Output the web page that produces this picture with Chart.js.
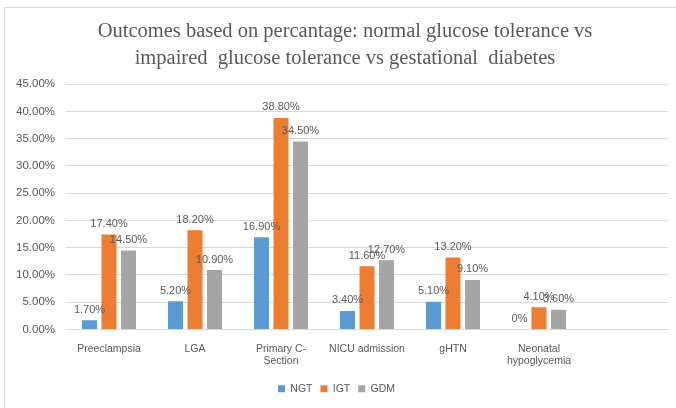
<!DOCTYPE html>
<html>
<head>
<meta charset="utf-8">
<script src="https://cdn.jsdelivr.net/npm/chart.js@4"></script>
<style>
  html, body { margin: 0; padding: 0; background: #fff; }
  #wrap { position: relative; width: 676px; height: 408px; }
  #frame { position: absolute; left: 4px; top: 7px; width: 680px; height: 410px; border: 1px solid #d9d9d9; }
  canvas { position: absolute; left: 0; top: 0; }
</style>
</head>
<body>
<div id="wrap">
  <div id="frame"></div>
  <canvas id="BarChart" width="676" height="408"></canvas>
</div>
<script>
// categories (last one is empty space, as in the original sheet)
var categories = ['Preeclampsia', 'LGA', ['Primary C-', 'Section'], 'NICU admission', 'gHTN', ['Neonatal', 'hypoglycemia'], ''];

// values in percent
var ngt = [1.7, 5.2, 16.9, 3.4, 5.1, 0, null];
var igt = [17.4, 18.2, 38.8, 11.6, 13.2, 4.1, null];
var gdm = [14.5, 10.9, 34.5, 12.7, 9.1, 3.6, null];

var seriesNames = ['NGT', 'IGT', 'GDM'];
var yTicks = [0, 5, 10, 15, 20, 25, 30, 35, 40, 45];

var fmt = function (v) { return v === 0 ? '0%' : v.toFixed(2) + '%'; };

// draws value above each bar
var barLabels = {
  id: 'barLabels',
  afterLayout: function (chart) {
    // title sits a bit right of the canvas centre in the original
    chart.titleBlock.left += 17;
  },
  afterDatasetsDraw: function (chart) {
    var ctx = chart.ctx;
    ctx.save();
    ctx.font = '11px "Liberation Sans"';
    ctx.fillStyle = '#595959';
    ctx.textAlign = 'center';
    ctx.textBaseline = 'bottom';
    chart.data.datasets.forEach(function (ds, i) {
      chart.getDatasetMeta(i).data.forEach(function (bar, j) {
        var v = ds.data[j];
        if (v === null || v === undefined) return;
        ctx.fillText(fmt(v), bar.x, bar.y - 5);
      });
    });
    ctx.restore();
  }
};

var ctx = document.getElementById('BarChart').getContext('2d');
var BarChart = new Chart(ctx, {
  type: 'bar',
  data: {
    labels: categories,
    datasets: [
      { label: seriesNames[0], data: ngt, backgroundColor: '#5B9BD5' },
      { label: seriesNames[1], data: igt, backgroundColor: '#ED7D31' },
      { label: seriesNames[2], data: gdm, backgroundColor: '#A5A5A5' }
    ]
  },
  options: {
    responsive: false,
    animation: false,
    layout: { padding: { left: 5, right: 8, top: 18, bottom: 4 } },
    datasets: { bar: { categoryPercentage: 0.68, barPercentage: 0.77 } },
    scales: {
      x: {
        afterFit: function (axis) { axis.height = 46; },
        grid: { display: false, drawTicks: false },
        border: { display: true, color: '#d9d9d9' },
        ticks: { color: '#595959', font: { family: 'Liberation Sans', size: 10.5 }, padding: 13, maxRotation: 0, autoSkip: false }
      },
      y: {
        min: 0,
        max: 45,
        afterBuildTicks: function (axis) { axis.ticks = yTicks.map(function (v) { return { value: v }; }); },
        grid: { color: '#d9d9d9', drawTicks: false },
        border: { display: false },
        ticks: {
          color: '#595959',
          font: { family: 'Liberation Sans', size: 11.5 },
          padding: 11,
          callback: function (v) { return v.toFixed(2) + '%'; }
        }
      }
    },
    plugins: {
      title: {
        display: true,
        text: ['Outcomes based on percantage: normal glucose tolerance vs', 'impaired  glucose tolerance vs gestational  diabetes'],
        color: '#595959',
        font: { family: 'Liberation Serif', size: 20.5, weight: 'normal', lineHeight: 1.32 },
        padding: { top: 0, bottom: 12 }
      },
      legend: {
        position: 'bottom',
        labels: { color: '#595959', font: { family: 'Liberation Sans', size: 10.5 }, boxWidth: 7, boxHeight: 7, padding: 8 }
      },
      tooltip: { enabled: false }
    }
  },
  plugins: [barLabels]
});
</script>
</body>
</html>
